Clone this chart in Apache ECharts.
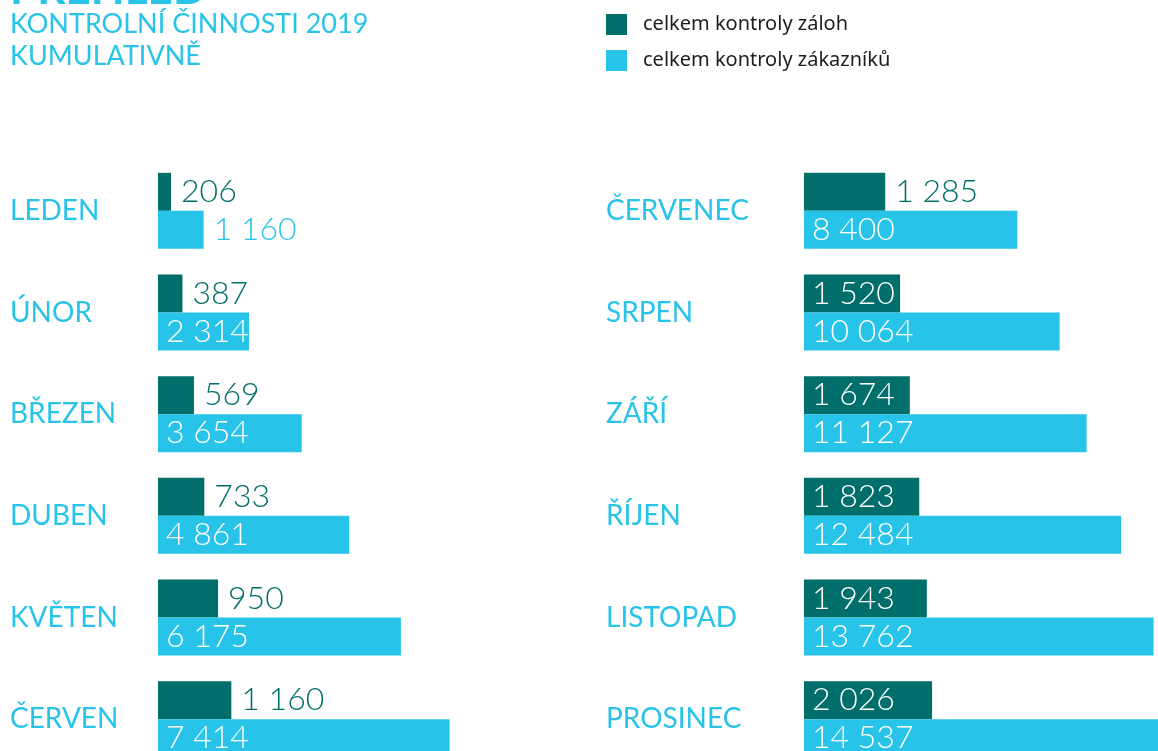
<!DOCTYPE html>
<html>
<head>
<meta charset="utf-8">
<script src="https://cdn.jsdelivr.net/npm/echarts@6/dist/echarts.min.js"></script>
<style>
  html, body { margin: 0; padding: 0; background: #fff; overflow: hidden; }
  #chart { width: 1158px; height: 751px; }
</style>
</head>
<body>
<div id="chart"></div>
<script>
// měsíce - levý a pravý sloupec
var monthsLeft = ['LEDEN', 'ÚNOR', 'BŘEZEN', 'DUBEN', 'KVĚTEN', 'ČERVEN'];
var monthsRight = ['ČERVENEC', 'SRPEN', 'ZÁŘÍ', 'ŘÍJEN', 'LISTOPAD', 'PROSINEC'];
// celkem kontroly záloh (kumulativně)
var zalohyLeft = [206, 387, 569, 733, 950, 1160];
var zalohyRight = [1285, 1520, 1674, 1823, 1943, 2026];
// celkem kontroly zákazníků (kumulativně)
var zakazniciLeft = [1160, 2314, 3654, 4861, 6175, 7414];
var zakazniciRight = [8400, 10064, 11127, 12484, 13762, 14537];

var seriesNames = ['celkem kontroly záloh', 'celkem kontroly zákazníků'];

var DARK = '#006e6a';
var LIGHT = '#28c3e8';
var FONT = 'Lato, "Open Sans", sans-serif';
var GRID_W = 354;

function fmt(v) {
  return String(v).replace(/\B(?=(\d{3})+(?!\d))/g, ' ');
}

// popisek uvnitř sloupce jen když se tam vejde
function makeData(values, max, color) {
  return values.map(function (v) {
    var px = v / max * GRID_W;
    var inside = px >= 86;
    return {
      value: v,
      label: {
        show: true,
        position: inside ? 'insideLeft' : 'right',
        distance: inside ? 8 : 10,
        color: inside ? '#ffffff' : color,
        formatter: function (p) { return fmt(p.value); },
        fontFamily: FONT,
        fontWeight: 300,
        fontSize: 32
      }
    };
  });
}

var chart = echarts.init(document.getElementById('chart'));

var catAxis = function (grid, data, margin) {
  return {
    type: 'category',
    gridIndex: grid,
    data: data,
    inverse: true,
    axisLine: { show: false },
    axisTick: { show: false },
    axisLabel: {
      align: 'left',
      margin: margin,
      color: LIGHT,
      fontFamily: FONT,
      fontSize: 28,
      padding: [6, 0, 0, 0]
    }
  };
};

var valAxis = function (grid, max) {
  return { type: 'value', gridIndex: grid, min: 0, max: max, show: false };
};

var barSeries = function (name, xi, yi, data, color) {
  return {
    name: name,
    type: 'bar',
    xAxisIndex: xi,
    yAxisIndex: yi,
    barWidth: 38,
    barGap: '0%',
    itemStyle: { color: color },
    data: data
  };
};

var maxDarkL = 5600, maxLightL = 9000, maxDarkR = 5600, maxLightR = 13937;

var option = {
  backgroundColor: '#ffffff',
  animation: false,
  graphic: [{
    type: 'text',
    left: 10,
    top: -32,
    style: {
      text: 'PŘEHLED',
      fill: LIGHT,
      font: 'bold 44px ' + FONT
    }
  }, {
    type: 'text',
    left: 10,
    top: 8,
    style: {
      text: 'KONTROLNÍ ČINNOSTI 2019\nKUMULATIVNĚ',
      fill: LIGHT,
      font: '27px ' + FONT,
      lineHeight: 32
    }
  }],
  legend: {
    orient: 'vertical',
    left: 606,
    top: 14,
    padding: 0,
    itemWidth: 21,
    itemHeight: 21,
    itemGap: 15,
    icon: 'rect',
    data: seriesNames,
    textStyle: {
      color: '#1d1d1b',
      fontFamily: '"Noto Sans", sans-serif',
      fontSize: 20,
      padding: [0, 0, 0, 11]
    }
  },
  grid: [
    { left: 158, top: 160, width: GRID_W, height: 610, outerBoundsMode: 'none' },
    { left: 804, top: 160, width: GRID_W, height: 610, outerBoundsMode: 'none' }
  ],
  xAxis: [
    valAxis(0, maxDarkL),
    valAxis(0, maxLightL),
    valAxis(1, maxDarkR),
    valAxis(1, maxLightR)
  ],
  yAxis: [
    catAxis(0, monthsLeft, 148),
    catAxis(1, monthsRight, 198)
  ],
  series: [
    barSeries(seriesNames[0], 0, 0, makeData(zalohyLeft, maxDarkL, DARK), DARK),
    barSeries(seriesNames[1], 1, 0, makeData(zakazniciLeft, maxLightL, LIGHT), LIGHT),
    barSeries(seriesNames[0], 2, 1, makeData(zalohyRight, maxDarkR, DARK), DARK),
    barSeries(seriesNames[1], 3, 1, makeData(zakazniciRight, maxLightR, LIGHT), LIGHT)
  ]
};

chart.setOption(option);
window.addEventListener('resize', function () {
  chart.resize();
});
</script>
</body>
</html>
